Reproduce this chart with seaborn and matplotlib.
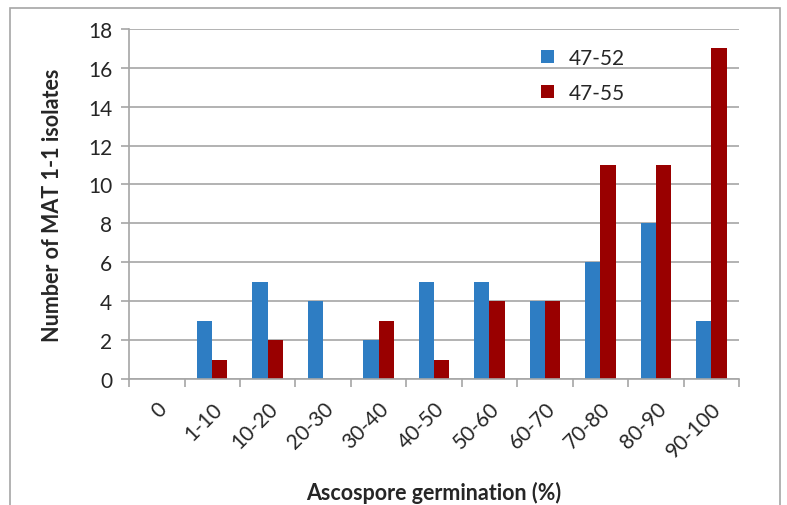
import pandas as pd
import matplotlib.pyplot as plt
import seaborn as sns
from matplotlib.patches import Rectangle

# Data
categories = ['0', '1-10', '10-20', '20-30', '30-40', '40-50', '50-60',
              '60-70', '70-80', '80-90', '90-100']
isolates_47_52 = [0, 3, 5, 4, 2, 5, 5, 4, 6, 8, 3]
isolates_47_55 = [0, 1, 2, 0, 3, 1, 4, 4, 11, 11, 17]

df = pd.DataFrame({
    'germination': categories * 2,
    'count': isolates_47_52 + isolates_47_55,
    'series': ['47-52'] * len(categories) + ['47-55'] * len(categories),
})

sns.set_style('white')
plt.rcParams['font.family'] = ['Lato', 'DejaVu Sans']

fig = plt.figure(figsize=(7.87, 5.06), dpi=100)
ax = fig.add_axes([0.164, 0.249, 0.775, 0.692])

sns.barplot(data=df, x='germination', y='count', hue='series',
            palette=['#2E7DC3', '#990000'], width=0.55, ax=ax,
            saturation=1, linewidth=0)

ax.set_ylim(0, 18)
ax.set_yticks(range(0, 19, 2))
ax.set_xlim(-0.5, len(categories) - 0.5)
ax.yaxis.grid(True, color='#a6a6a6', linewidth=1.2)
ax.set_axisbelow(True)
for s in ['top', 'right']:
    ax.spines[s].set_visible(False)
for s in ['left', 'bottom']:
    ax.spines[s].set_color('#a6a6a6')
    ax.spines[s].set_linewidth(1.2)

# category labels centred, tick marks between categories
ax.set_xticks(range(len(categories)))
ax.set_xticklabels(categories, rotation=45, ha='right', rotation_mode='anchor',
                   fontsize=15)
ax.set_xticks([i - 0.5 for i in range(len(categories) + 1)], minor=True)
ax.tick_params(axis='x', which='major', length=0, pad=14)
ax.tick_params(axis='x', which='minor', length=6, color='#a6a6a6', width=1.2,
               direction='out', bottom=True)
ax.tick_params(axis='y', length=6, color='#a6a6a6', width=1.2, direction='out',
               left=True, labelsize=15, pad=6)

ax.set_xlabel('Ascospore germination (%)', fontsize=15.5, fontweight='bold',
              va='center')
ax.xaxis.set_label_coords(0.5, -0.322)
ax.set_ylabel('Number of MAT 1-1 isolates', fontsize=15.5, fontweight='bold',
              labelpad=18)

leg = ax.legend(loc='upper left', bbox_to_anchor=(0.645, 1.0), frameon=False,
                fontsize=15, handlelength=0.6, handleheight=0.6,
                labelspacing=0.75, handletextpad=0.7)

# outer frame like the original chart box
fig.patches.append(Rectangle((0.013, -0.1), 0.978, 1.083, transform=fig.transFigure,
                             fill=False, edgecolor='#a6a6a6', linewidth=1.2))

fig.savefig('out.png', dpi=100)
